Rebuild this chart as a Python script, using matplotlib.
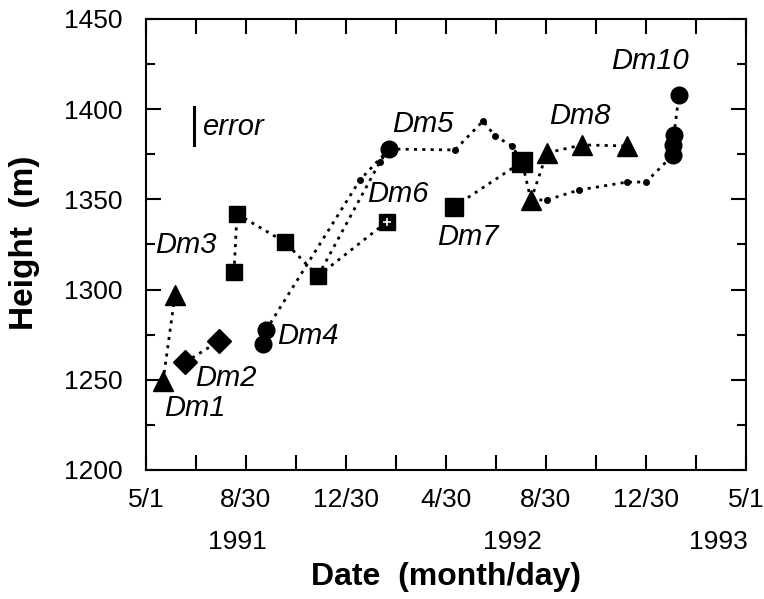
import numpy as np
import matplotlib
matplotlib.use('Agg')
import matplotlib.pyplot as plt
import matplotlib.transforms as mtransforms

plt.rcParams['font.family'] = ['Liberation Sans', 'DejaVu Sans']

# x = months since 5/1/1991, y = height (m)
dm1_x = [0.68, 1.16]
dm1_y = [1249.2, 1296.9]

dm2_x = [1.56, 2.92]
dm2_y = [1259.7, 1271.4]

dm3_x = [3.52, 3.64, 5.56, 6.88]
dm3_y = [1309.7, 1341.9, 1326.3, 1307.5]

dm4_x = [4.68, 4.80]
dm4_y = [1269.7, 1277.5]
dm4_path_x = [4.80, 8.56, 9.72]
dm4_path_y = [1277.5, 1360.8, 1377.9]

link_x = [6.88, 9.36, 9.72]
link_y = [1307.5, 1370.8, 1377.9]

dm5_x = [9.72, 12.36, 13.48, 13.96, 14.64, 15.04, 15.40]
dm5_y = [1377.9, 1377.4, 1393.4, 1385.2, 1379.6, 1370.8, 1349.7]

dm6_x = [6.88, 9.64]
dm6_y = [1307.5, 1337.6]

dm7_x = [12.32, 15.04]
dm7_y = [1345.9, 1370.8]

dm8_x = [15.40, 16.04, 17.44, 19.24]
dm8_y = [1349.7, 1375.8, 1380.2, 1379.6]

dm10_x = [15.40, 16.04, 17.32, 19.24, 20.00, 21.08, 21.08, 21.12, 21.32]
dm10_y = [1349.7, 1349.7, 1355.2, 1359.6, 1359.6, 1374.6, 1380.2, 1385.8, 1408.0]

xtick_pos = [0, 4, 8, 12, 16, 20, 24]
xtick_lab = ['5/1', '8/30', '12/30', '4/30', '8/30', '12/30', '5/1']
years = ['1991', '1992', '1993']
year_x = [3.64, 14.64, 22.88]

labels = ['Dm1', 'Dm2', 'Dm3', 'Dm4', 'Dm5', 'Dm6', 'Dm7', 'Dm8', 'Dm10']
label_x = [1.96, 3.20, 1.60, 6.48, 11.08, 10.08, 12.88, 17.36, 20.16]
label_y = [1234.2, 1250.9, 1324.6, 1274.2, 1391.9, 1353.0, 1329.2, 1396.3, 1426.8]

fig = plt.figure(figsize=(7.64, 5.99), dpi=100)
ax = fig.add_axes([0.1911, 0.2154, 0.7853, 0.7529])

dot = (0, (1.1, 1.9))
lw = 2.0
k = 'black'

# dotted tracks
ax.plot(dm1_x, dm1_y, ls=dot, lw=lw, color=k)
ax.plot(dm2_x, dm2_y, ls=dot, lw=lw, color=k)
ax.plot(dm3_x, dm3_y, ls=dot, lw=lw, color=k)
ax.plot(dm4_path_x, dm4_path_y, ls=dot, lw=lw, color=k)
ax.plot(link_x, link_y, ls=dot, lw=lw, color=k)
ax.plot(dm5_x, dm5_y, ls=dot, lw=lw, color=k)
ax.plot(dm6_x, dm6_y, ls=dot, lw=lw, color=k)
ax.plot(dm7_x, dm7_y, ls=dot, lw=lw, color=k)
ax.plot(dm8_x, dm8_y, ls=dot, lw=lw, color=k)
ax.plot(dm10_x, dm10_y, ls=dot, lw=lw, color=k)

# small dots along the tracks
ax.plot(dm4_path_x[1:2], dm4_path_y[1:2], 'o', ms=4, color=k)
ax.plot(link_x[1:2], link_y[1:2], 'o', ms=4, color=k)
ax.plot(dm5_x[1:5], dm5_y[1:5], 'o', ms=4, color=k)
ax.plot(dm10_x[1:5], dm10_y[1:5], 'o', ms=4, color=k)

# markers
ax.plot(dm1_x, dm1_y, '^', ms=14, color=k)
ax.plot(dm8_x, dm8_y, '^', ms=14, color=k)
ax.plot(dm2_x, dm2_y, 'D', ms=12, color=k)
ax.plot(dm3_x, dm3_y, 's', ms=11.5, color=k)
ax.plot(dm4_x, dm4_y, 'o', ms=12, color=k)
ax.plot(dm5_x[:1], dm5_y[:1], 'o', ms=12, color=k)
ax.plot(dm6_x[1:], dm6_y[1:], 's', ms=11, color=k)
ax.plot(dm6_x[1:], dm6_y[1:], '+', ms=6, mew=1.2, color='white')
ax.plot(dm7_x[:1], dm7_y[:1], 's', ms=13, color=k)
ax.plot(dm7_x[1:], dm7_y[1:], 's', ms=14.5, color=k)
ax.plot(dm10_x[5:], dm10_y[5:], 'o', ms=12, color=k)

# error bar
ax.plot([1.92, 1.92], [1380, 1401], color=k, lw=2.2)
ax.text(2.24, 1390, 'error', style='italic', fontsize=21, ha='left', va='center')

for s, x, y in zip(labels, label_x, label_y):
    ax.text(x, y, s, style='italic', fontsize=21, ha='center', va='center')

ax.set_xlim(0, 24)
ax.set_ylim(1200, 1450)
ax.set_xticks(xtick_pos)
ax.set_xticklabels(xtick_lab)
ax.set_xticks(np.arange(2, 24, 4), minor=True)
ax.set_yticks(np.arange(1200, 1451, 50))
ax.set_yticks(np.arange(1225, 1450, 50), minor=True)

ax.tick_params(axis='both', which='both', direction='in', top=True, right=True,
               width=1.5, labelsize=19, colors=k)
ax.tick_params(axis='both', which='major', length=11)
ax.tick_params(axis='y', which='minor', length=6.5)
ax.tick_params(axis='x', which='minor', length=11)
ax.tick_params(axis='x', which='major', pad=13)
ax.tick_params(axis='y', which='major', pad=17)
for sp in ax.spines.values():
    sp.set_linewidth(1.5)

trans = mtransforms.blended_transform_factory(ax.transData, ax.transAxes)
for yr, x in zip(years, year_x):
    ax.text(x, -0.16, yr, fontsize=19, ha='center', va='center', transform=trans)

ax.set_xlabel('Date  (month/day)', fontsize=23, fontweight='bold')
ax.xaxis.set_label_coords(0.5, -0.205)
ax.set_ylabel('Height  (m)', fontsize=24, fontweight='bold')
ax.yaxis.set_label_coords(-0.202, 0.504)
ax.yaxis.label.set_va('center')
ax.yaxis.label.set_ha('center')

fig.savefig('out.png', dpi=100)
